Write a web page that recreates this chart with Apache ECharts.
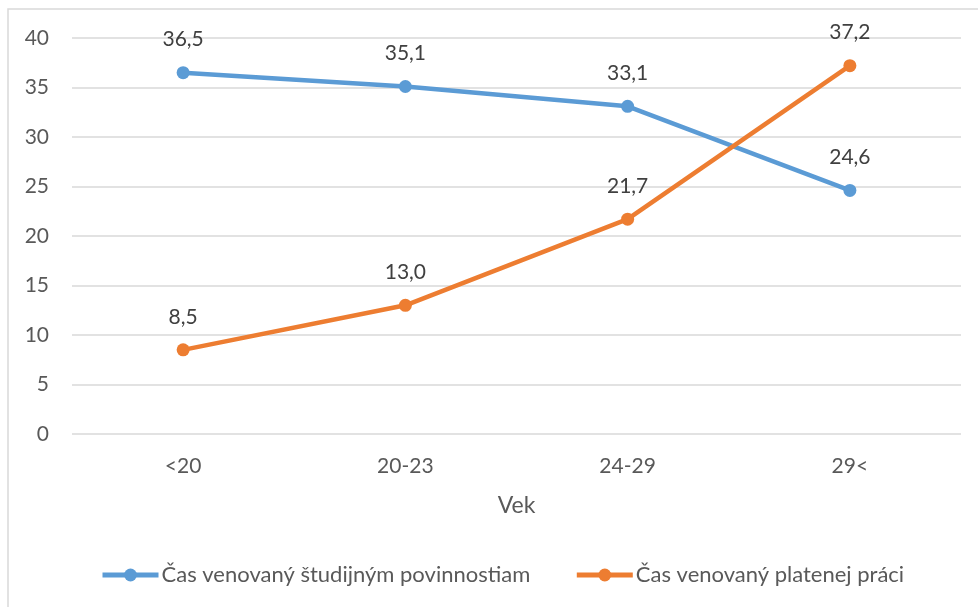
<!DOCTYPE html>
<html>
<head>
<meta charset="utf-8">
<script src="https://cdn.jsdelivr.net/npm/echarts@6/dist/echarts.min.js"></script>
<style>
  html, body { margin: 0; padding: 0; background: #fff; }
  #chart { width: 978px; height: 607px; }
</style>
</head>
<body>
<div id="chart"></div>
<script>
// vekové skupiny
const categories = ['<20', '20-23', '24-29', '29<'];
const studyHours = [36.5, 35.1, 33.1, 24.6];
const workHours = [8.5, 13.0, 21.7, 37.2];
const seriesNames = ['Čas venovaný študijným povinnostiam', 'Čas venovaný platenej práci'];

const font = 'Lato, "Open Sans", sans-serif';
const fmt = (p) => p.value.toFixed(1).replace('.', ',');

const makeSeries = (name, data, color) => ({
  name,
  type: 'line',
  data,
  symbol: 'circle',
  symbolSize: 13,
  lineStyle: { width: 4.5, color },
  itemStyle: { color },
  label: {
    show: true,
    position: 'top',
    distance: 16,
    formatter: fmt,
    color: '#404040',
    fontSize: 21,
    fontFamily: font
  }
});

const chart = echarts.init(document.getElementById('chart'), null, { renderer: 'canvas' });
chart.setOption({
  animation: false,
  textStyle: { fontFamily: font },
  graphic: [{
    type: 'rect',
    shape: { x: 8, y: 9, width: 1000, height: 700 },
    style: { fill: 'none', stroke: '#d9d9d9', lineWidth: 1.5 },
    silent: true
  }],
  grid: { left: 72, right: 17, top: 38, bottom: 173 },
  xAxis: {
    type: 'category',
    data: categories,
    name: 'Vek',
    nameLocation: 'middle',
    nameGap: 60,
    nameTextStyle: { color: '#595959', fontSize: 23, fontFamily: font },
    axisLine: { show: false },
    axisTick: { show: false },
    axisLabel: { color: '#595959', fontSize: 21, margin: 22, fontFamily: font }
  },
  yAxis: {
    type: 'value',
    min: 0,
    max: 40,
    interval: 5,
    axisLine: { show: false },
    axisTick: { show: false },
    axisLabel: { color: '#595959', fontSize: 21, margin: 23, fontFamily: font },
    splitLine: { lineStyle: { color: '#d9d9d9', width: 1.5 } }
  },
  legend: {
    bottom: 16,
    left: 95,
    itemGap: 44,
    itemWidth: 56,
    itemHeight: 16,
    lineStyle: { width: 5 },
    textStyle: { color: '#595959', fontSize: 22, fontFamily: font, padding: [0, 0, 0, -2] },
    data: seriesNames
  },
  series: [
    makeSeries(seriesNames[0], studyHours, '#5B9BD5'),
    makeSeries(seriesNames[1], workHours, '#ED7D31')
  ]
});
</script>
</body>
</html>
